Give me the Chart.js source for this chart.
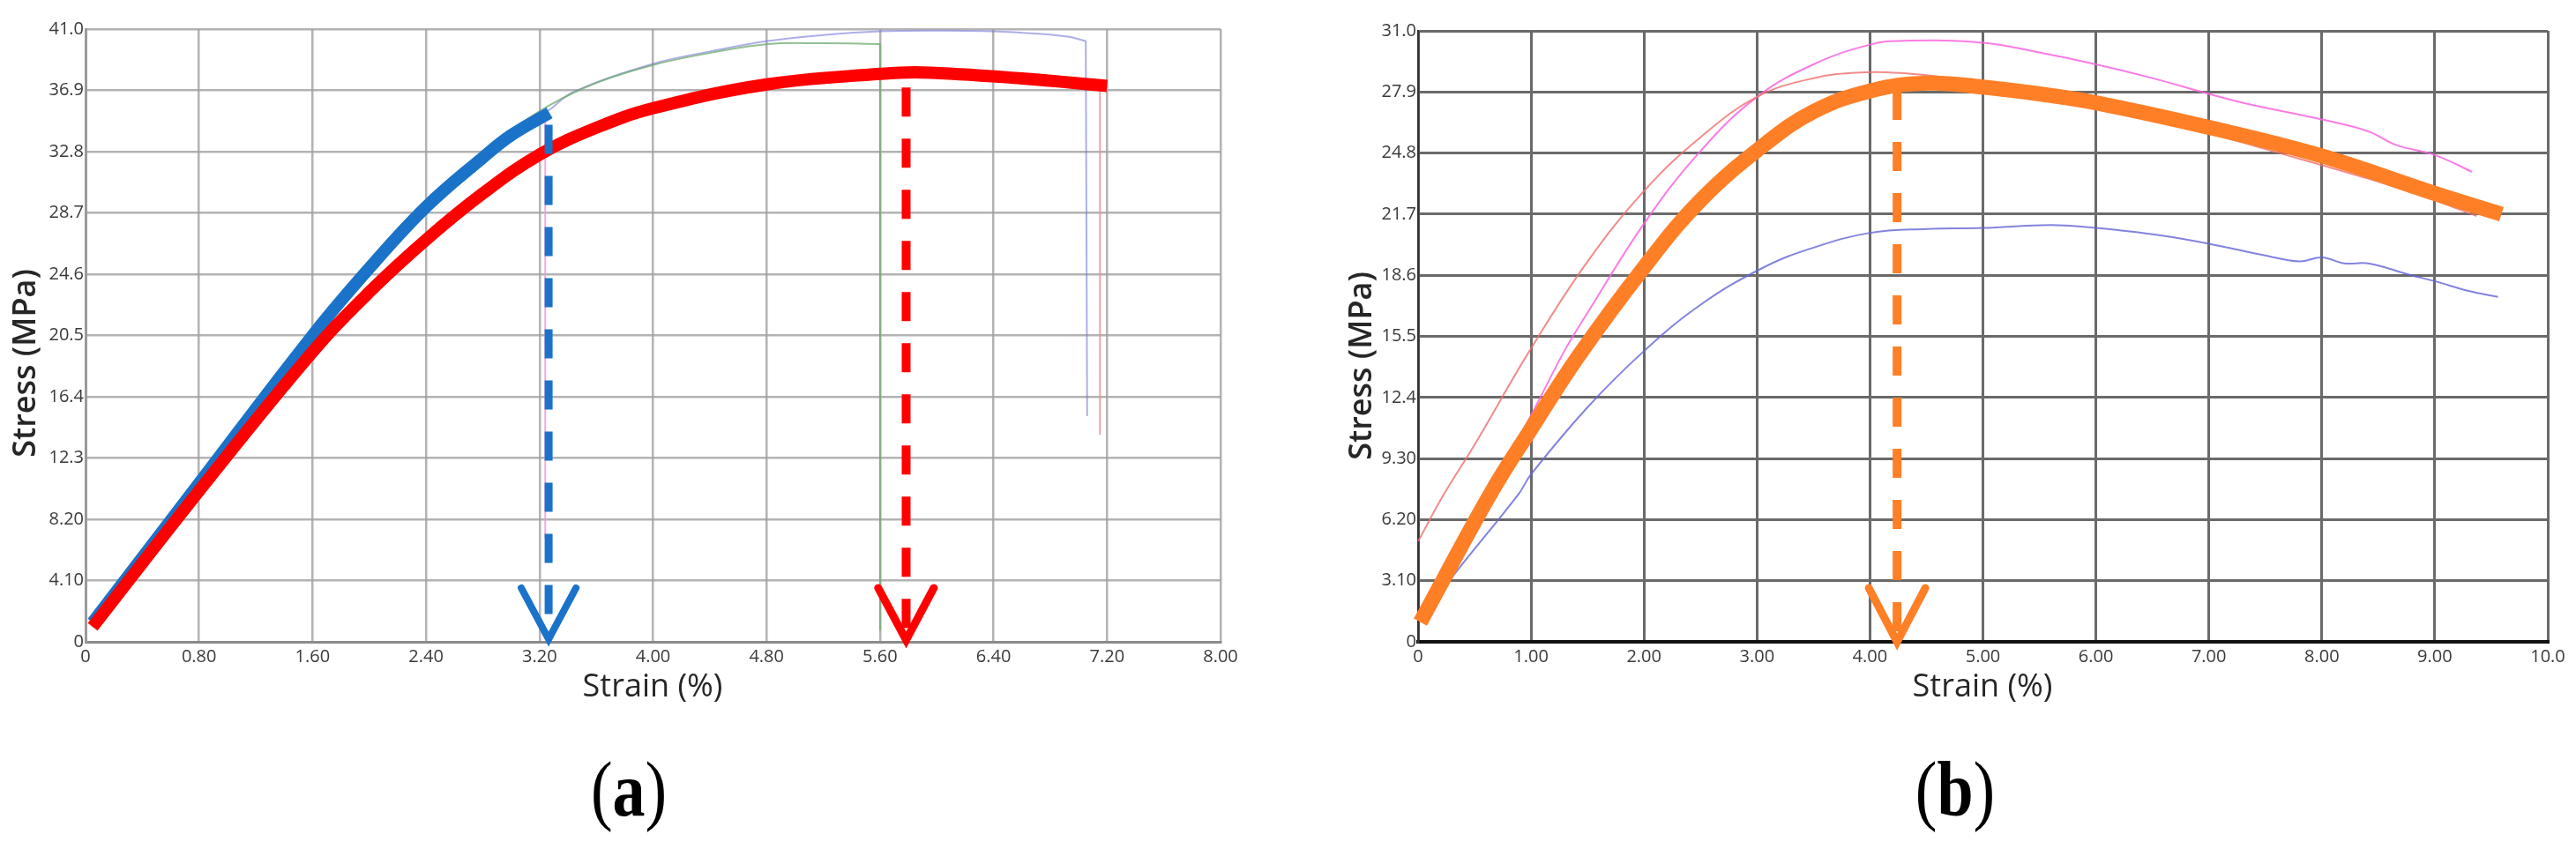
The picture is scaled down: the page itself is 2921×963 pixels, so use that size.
<!DOCTYPE html>
<html><head><meta charset="utf-8">
<script src="https://cdn.jsdelivr.net/npm/chart.js@4.4.1/dist/chart.umd.min.js"></script>
<style>
html,body{margin:0;padding:0;background:#fff;width:2921px;height:963px;overflow:hidden;}
#wa{position:absolute;left:0;top:0;width:1440px;height:830px;}
#wb{position:absolute;left:1480px;top:0;width:1441px;height:830px;}
.cap{position:absolute;top:852px;font-family:"Liberation Serif","Times New Roman",serif;font-size:88px;line-height:88px;color:#000;white-space:nowrap;transform:translateX(-50%) scaleX(0.84);}
.cap b{font-weight:bold;}
</style></head><body>
<div id="wa"><canvas id="ca" width="1440" height="830"></canvas></div>
<div id="wb"><canvas id="cb" width="1441" height="830"></canvas></div>
<div class="cap" style="left:713px">(<b>a</b>)</div>
<div class="cap" style="left:2217px">(<b>b</b>)</div>
<script>
// ---------- Panel (a) ticks ----------
const aXTicks = [0,0.8,1.6,2.4,3.2,4.0,4.8,5.6,6.4,7.2,8.0];
const aXTickLabels = ["0","0.80","1.60","2.40","3.20","4.00","4.80","5.60","6.40","7.20","8.00"];
const aYTicks = [0,4.1,8.2,12.3,16.4,20.5,24.6,28.7,32.8,36.9,41.0];
const aYTickLabels = ["0","4.10","8.20","12.3","16.4","20.5","24.6","28.7","32.8","36.9","41.0"];
// ---------- Panel (a) series ----------
const aBlueStrain = [0.05,0.8,1.6,2.0,2.4,2.8,3.0,3.27];
const aBlueStress = [1.3,10.6,20.5,25.0,29.1,32.4,33.9,35.4];
const aRedStrain = [0.05,0.8,1.6,2.0,2.4,2.8,3.2,3.6,4.0,4.8,5.6,5.9,6.6,7.2];
const aRedStress = [1.0,10.1,19.4,23.4,26.9,30.0,32.6,34.4,35.7,37.3,38.0,38.1,37.7,37.2];
const aGreenStrain = [0.05,0.8,1.6,2.0,2.4,2.8,3.0,3.27,3.6,4.0,4.4,4.81,5.2,5.6];
const aGreenStress = [1.4,10.8,20.8,25.3,29.4,32.7,34.2,35.9,37.4,38.6,39.4,40.0,40.05,40.0];
const aGreenDropStrain = [5.6,5.6];
const aGreenDropStress = [40.0,0.8];
const aLavStrain = [0.05,0.8,1.6,2.0,2.4,2.8,3.0,3.27,3.44,4.01,4.4,4.81,5.2,5.6,6.0,6.54,6.92,7.05];
const aLavStress = [1.3,10.6,20.5,25.0,29.1,32.4,33.9,35.6,36.8,38.7,39.5,40.2,40.6,40.85,40.9,40.8,40.5,40.2];
const aLavDropStrain = [7.05,7.06];
const aLavDropStress = [40.2,15.1];
const aPinkStrain = [0.05,0.8,1.6,2.0,2.4,2.8,3.0,3.24];
const aPinkStress = [1.3,10.6,20.5,25.0,29.1,32.4,33.9,35.2];
const aPinkDropStrain = [3.24,3.24];
const aPinkDropStress = [35.2,7.0];
const aThinRedStrain = [0.05,0.8,1.6,2.4,3.2,4.0,4.8,5.6,6.6,7.15];
const aThinRedStress = [1.0,10.1,19.4,26.9,32.6,35.7,37.3,38.0,37.7,37.2];
const aThinRedDropStrain = [7.15,7.15];
const aThinRedDropStress = [37.2,13.9];
const aBlueDashStrain = [3.264,3.264];
const aBlueDashStress = [34.6,1.54];
const aBlueArrowStrain = [3.071,3.264,3.457];
const aBlueArrowStress = [3.6,0.18,3.6];
const aRedDashStrain = [5.784,5.784];
const aRedDashStress = [37.09,0.7];
const aRedArrowStrain = [5.587,5.784,5.979];
const aRedArrowStress = [3.6,0.12,3.6];

// ---------- Panel (b) ticks ----------
const bXTicks = [0,1,2,3,4,5,6,7,8,9,10];
const bXTickLabels = ["0","1.00","2.00","3.00","4.00","5.00","6.00","7.00","8.00","9.00","10.0"];
const bYTicks = [0,3.1,6.2,9.3,12.4,15.5,18.6,21.7,24.8,27.9,31.0];
const bYTickLabels = ["0","3.10","6.20","9.30","12.4","15.5","18.6","21.7","24.8","27.9","31.0"];
// ---------- Panel (b) series ----------
const bOrangeStrain = [0.02,0.64,1.0,1.42,2.0,2.5,3.06,3.5,4.0,4.5,5.0,5.5,6.0,7.0,8.0,9.0,9.59];
const bOrangeStress = [1.0,7.5,10.8,14.5,19.0,22.4,25.2,26.9,27.95,28.35,28.15,27.8,27.35,26.1,24.65,22.75,21.7];
const bMagentaStrain = [0.1,0.5,1.0,1.29,1.5,2.01,2.5,3.0,3.5,4.0,4.3,5.0,5.5,6.0,6.5,7.0,7.34,8.0,8.41,8.66,9.0,9.33];
const bMagentaStress = [1.6,6.3,11.5,14.7,16.7,21.3,24.9,27.65,29.3,30.3,30.5,30.4,29.9,29.3,28.6,27.8,27.3,26.5,25.9,25.2,24.7,23.85];
const bSalmonStrain = [0,0.23,0.5,0.98,1.5,2.02,2.5,3.0,3.5,3.95,4.3,4.7,5.2,6.0,7.0,7.5,8.41,9.0,9.37];
const bSalmonStress = [5.1,7.5,10.0,14.7,19.3,23.0,25.6,27.65,28.6,28.9,28.85,28.6,28.0,27.1,25.8,25.0,23.5,22.4,21.6];
const bBlueStrain = [0.2,0.29,0.89,1.0,1.5,1.99,2.5,3.06,3.5,4.0,4.5,5.0,5.6,6.0,6.18,6.6,7.0,7.5,7.8,8.0,8.2,8.41,8.79,9.0,9.3,9.56];
const bBlueStress = [2.4,3.2,7.5,8.5,11.9,14.7,17.1,19.0,20.0,20.75,20.95,21.0,21.15,21.0,20.9,20.6,20.2,19.6,19.3,19.5,19.2,19.2,18.6,18.3,17.8,17.5];
const bDashStrain = [4.24,4.24];
const bDashStress = [27.96,0.5];
const bArrowStrain = [3.99,4.24,4.49];
const bArrowStress = [2.73,0.0,2.73];

// ---------- text ----------
const xTitle = "Strain (%)";
const yTitle = "Stress (MPa)";

function pts(xs, ys){ return xs.map((x,i)=>({x:x, y:ys[i]})); }

function line(xs, ys, color, width, order, extra){
  return Object.assign({
    data: pts(xs, ys), borderColor: color, borderWidth: width, order: order,
    showLine: true, pointRadius: 0, pointHoverRadius: 0, fill: false,
    cubicInterpolationMode: 'default', tension: 0.4, clip: false,
    borderCapStyle: 'butt', borderJoinStyle: 'round'
  }, extra || {});
}
const straight = {tension: 0};
const dashed = {tension: 0, borderDash: [33,25]};
const arrow = {tension: 0, borderCapStyle: 'round', borderJoinStyle: 'miter'};

function titles(xPos, yPos){
  return {
    id: 'axisTitles',
    afterDraw(chart){
      const ctx = chart.ctx;
      ctx.save();
      ctx.fillStyle = '#262626';
      ctx.textAlign = 'center';
      ctx.textBaseline = 'middle';
      ctx.font = '400 36px "Open Sans"';
      ctx.fillText(xTitle, xPos[0], xPos[1]);
      ctx.translate(yPos[0], yPos[1]);
      ctx.rotate(-Math.PI/2);
      ctx.font = '600 36px "Open Sans"';
      ctx.fillText(yTitle, 0, 0);
      ctx.restore();
    }
  };
}

function scales(xT, xL, yT, yL, xMax, yMax, gridColor, gridW, leftB, bottomB, yAxisW){
  const tickFont = {family: '"Open Sans"', size: 20};
  return {
    x: {
      type: 'linear', min: 0, max: xMax,
      afterBuildTicks: s => { s.ticks = xT.map(v => ({value: v})); },
      afterFit: s => { s.height = 102; },
      ticks: {callback: (v, i) => xL[i], font: tickFont, color: '#3a3a3a', padding: 5, autoSkip: false, maxRotation: 0, minRotation: 0},
      grid: {color: gridColor, lineWidth: gridW, drawTicks: false},
      border: {display: true, color: bottomB[0], width: bottomB[1]}
    },
    y: {
      type: 'linear', min: 0, max: yMax,
      afterBuildTicks: s => { s.ticks = yT.map(v => ({value: v})); },
      afterFit: s => { s.width = yAxisW; },
      ticks: {callback: (v, i) => yL[i], font: tickFont, color: '#3a3a3a', padding: 2, autoSkip: false},
      grid: {color: gridColor, lineWidth: gridW, drawTicks: false},
      border: {display: true, color: leftB[0], width: leftB[1]}
    }
  };
}

const baseOptions = {
  responsive: false, animation: false, devicePixelRatio: 1,
  plugins: {legend: {display: false}, tooltip: {enabled: false}},
  events: []
};

new Chart(document.getElementById('ca'), {
  type: 'scatter',
  data: {datasets: [
    line(aBlueArrowStrain, aBlueArrowStress, '#1a73c8', 8, 0, arrow),
    line(aRedArrowStrain, aRedArrowStress, '#ff0000', 9, 0, arrow),
    line(aBlueDashStrain, aBlueDashStress, '#1a73c8', 9, 1, dashed),
    line(aRedDashStrain, aRedDashStress, '#ff0000', 10, 1, dashed),
    line(aRedStrain, aRedStress, '#ff0000', 14, 2),
    line(aBlueStrain, aBlueStress, '#1a73c8', 14, 3),
    line(aGreenStrain, aGreenStress, 'rgba(110,170,110,0.75)', 2, 4),
    line(aGreenDropStrain, aGreenDropStress, 'rgba(110,170,110,0.75)', 2, 4, straight),
    line(aLavStrain, aLavStress, 'rgba(120,120,215,0.6)', 2, 4),
    line(aLavDropStrain, aLavDropStress, 'rgba(120,120,215,0.6)', 2, 4, straight),
    line(aPinkStrain, aPinkStress, 'rgba(240,150,210,0.8)', 2, 4),
    line(aPinkDropStrain, aPinkDropStress, 'rgba(240,150,210,0.8)', 2, 4, straight),
    line(aThinRedStrain, aThinRedStress, 'rgba(240,140,140,0.8)', 2, 4),
    line(aThinRedDropStrain, aThinRedDropStress, 'rgba(240,140,140,0.8)', 2, 4, straight)
  ]},
  options: Object.assign({}, baseOptions, {
    layout: {padding: {top: 33, right: 56, bottom: 0, left: 0}},
    scales: scales(aXTicks, aXTickLabels, aYTicks, aYTickLabels, 8, 41,
      'rgba(160,160,160,0.8)', 2.5, ['#9a9a9a', 3], ['#8a8a8a', 3], 97)
  }),
  plugins: [titles([740, 780], [30, 412])]
});

new Chart(document.getElementById('cb'), {
  type: 'scatter',
  data: {datasets: [
    line(bArrowStrain, bArrowStress, '#ff7f27', 9, 0, arrow),
    line(bDashStrain, bDashStress, '#ff7f27', 10, 1, dashed),
    line(bOrangeStrain, bOrangeStress, '#ff7f27', 17, 2),
    line(bSalmonStrain, bSalmonStress, 'rgba(240,110,110,0.8)', 2, 3),
    line(bMagentaStrain, bMagentaStress, 'rgba(250,100,225,0.85)', 2, 3),
    line(bBlueStrain, bBlueStress, 'rgba(100,100,215,0.8)', 2, 3)
  ]},
  options: Object.assign({}, baseOptions, {
    layout: {padding: {top: 35, right: 32, bottom: 0, left: 0}},
    scales: scales(bXTicks, bXTickLabels, bYTicks, bYTickLabels, 10, 31,
      '#6a6a6a', 3, ['#333333', 2.5], ['#111111', 4], 128)
  }),
  plugins: [titles([768, 780], [65, 415])]
});
</script>
</body></html>
